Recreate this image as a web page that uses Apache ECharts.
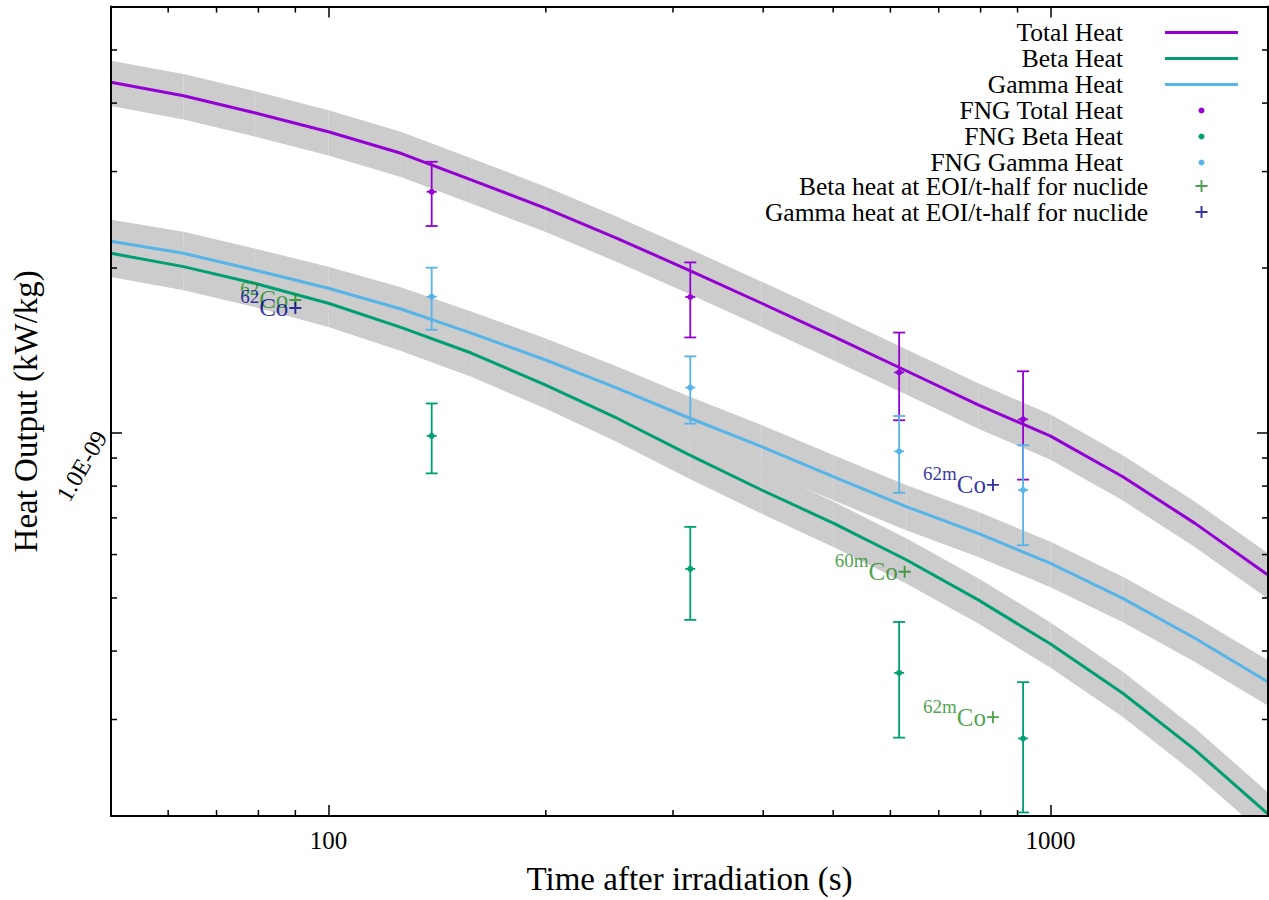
<!DOCTYPE html>
<html>
<head>
<meta charset="utf-8">
<title>Heat output after irradiation</title>
<script src="https://cdn.jsdelivr.net/npm/echarts@6/dist/echarts.min.js"></script>
<style>
  html, body { margin: 0; padding: 0; background: #fff; }
  #chart { width: 1269px; height: 900px; }
</style>
</head>
<body>
<div id="chart"></div>
<script>
// calculated heat curves (kW/kg) at the output times (s)
var times = [50, 63, 79, 100, 126, 158, 200, 251, 316, 398, 501, 631, 794, 1000, 1259, 1585, 1995];
var totalHeat = [4.365e-9, 4.126e-9, 3.842e-9, 3.546e-9, 3.239e-9, 2.895e-9, 2.570e-9, 2.266e-9, 1.981e-9,
                 1.725e-9, 1.499e-9, 1.299e-9, 1.125e-9, 0.987e-9, 0.832e-9, 0.684e-9, 0.552e-9];
var betaHeat = [2.128e-9, 2.012e-9, 1.876e-9, 1.725e-9, 1.559e-9, 1.398e-9, 1.223e-9, 1.064e-9, 0.912e-9,
                0.787e-9, 0.684e-9, 0.587e-9, 0.496e-9, 0.412e-9, 0.335e-9, 0.264e-9, 0.2023e-9];
var gammaHeat = [2.238e-9, 2.128e-9, 1.983e-9, 1.837e-9, 1.684e-9, 1.520e-9, 1.359e-9, 1.207e-9, 1.065e-9,
                 0.944e-9, 0.832e-9, 0.734e-9, 0.656e-9, 0.578e-9, 0.499e-9, 0.422e-9, 0.352e-9];
// relative uncertainty shown by the grey bands
var bandFraction = 0.095;

// FNG measurements with their errors
var fngTimes = [139, 317, 617, 916];
var fngTotal = [2.756e-9, 1.771e-9, 1.290e-9, 1.059e-9];
var fngTotalErr = [0.370e-9, 0.277e-9, 0.235e-9, 0.237e-9];
var fngBeta = [0.988e-9, 0.565e-9, 0.365e-9, 0.277e-9];
var fngBetaErr = [0.144e-9, 0.109e-9, 0.087e-9, 0.074e-9];
var fngGamma = [1.773e-9, 1.210e-9, 0.926e-9, 0.787e-9];
var fngGammaErr = [0.230e-9, 0.170e-9, 0.148e-9, 0.163e-9];

// heat at EOI placed at the nuclide half-life
var betaMarkTimes = [90, 628, 832];
var betaMarkHeat = [1.749e-9, 0.558e-9, 0.303e-9];
var betaMarkNuclides = ['62', '60m', '62m'];
var gammaMarkTimes = [90, 832];
var gammaMarkHeat = [1.691e-9, 0.804e-9];
var gammaMarkNuclides = ['62', '62m'];

// axis ranges and minor ticks
var xMin = 50, xMax = 2000;
var yMin = 2e-10, yMax = 6e-9;
var xMinorTicks = [60, 70, 80, 90, 200, 300, 400, 500, 600, 700, 800, 900];
var yMinorTicks = [3e-10, 4e-10, 5e-10, 6e-10, 7e-10, 8e-10, 9e-10, 2e-9, 3e-9, 4e-9, 5e-9];

var font = "'Liberation Serif', 'Times New Roman', serif";
var colors = {
    total: '#9400d3',
    beta: '#009e73',
    gamma: '#56b4e9',
    band: '#cccccc',
    betaMark: '#228b22',
    gammaMark: '#00008b'
};
var lineIcon = 'path://M0,0H73V3H0Z';
var plusIcon = 'path://M4.2,0h1.6v4.2h4.2v1.6h-4.2v4.2h-1.6v-4.2h-4.2v-1.6h4.2z';

function pairs(xs, ys) {
    return xs.map(function(x, i) { return [x, ys[i]]; });
}

function bandData(values) {
    return times.map(function(t, i) {
        return [t, values[i] * (1 - bandFraction), values[i] * (1 + bandFraction)];
    });
}

function errorData(values, errors) {
    return fngTimes.map(function(t, i) { return [t, values[i], errors[i]]; });
}

function renderBand(params, api) {
    var i = params.dataIndexInside;
    if (i >= params.dataInsideLength - 1) {
        return null;
    }
    var x0 = api.value(0, i), x1 = api.value(0, i + 1);
    return {
        type: 'polygon',
        shape: { points: [
            api.coord([x0, api.value(2, i)]),
            api.coord([x1, api.value(2, i + 1)]),
            api.coord([x1, api.value(1, i + 1)]),
            api.coord([x0, api.value(1, i)])
        ] },
        style: { fill: colors.band }
    };
}

function errorBarRenderer(color) {
    return function(params, api) {
        var x = api.value(0), v = api.value(1), err = api.value(2);
        var c = api.coord([x, v]);
        var top = api.coord([x, v + err])[1];
        var bot = api.coord([x, v - err])[1];
        var s = { stroke: color, lineWidth: 1.8 };
        return {
            type: 'group',
            children: [
                { type: 'line', shape: { x1: c[0], y1: top, x2: c[0], y2: bot }, style: s },
                { type: 'line', shape: { x1: c[0] - 6, y1: top, x2: c[0] + 6, y2: top }, style: s },
                { type: 'line', shape: { x1: c[0] - 6, y1: bot, x2: c[0] + 6, y2: bot }, style: s },
                { type: 'line', shape: { x1: c[0] - 5, y1: c[1], x2: c[0] + 5, y2: c[1] }, style: s },
                { type: 'circle', shape: { cx: c[0], cy: c[1], r: 3 }, style: { fill: color } }
            ]
        };
    };
}

function sciLabel(v) {
    var exp = Math.round(Math.log10(v));
    var mant = v / Math.pow(10, exp);
    var e = Math.abs(exp);
    return mant.toFixed(1) + 'E' + (exp < 0 ? '-' : '+') + (e < 10 ? '0' : '') + e;
}

function plainLabel(v) {
    return String(Math.round(v));
}

function lineSeries(name, values, color) {
    return {
        type: 'line', name: name, data: pairs(times, values),
        symbol: 'none', silent: true, z: 3,
        lineStyle: { color: color, width: 3 },
        itemStyle: { color: color }
    };
}

function bandSeries(name, values) {
    return {
        type: 'custom', name: name, data: bandData(values),
        renderItem: renderBand, clip: true, silent: true, z: 1,
        encode: { x: 0, y: [1, 2] }
    };
}

function errorSeries(name, values, errors, color) {
    return {
        type: 'custom', name: name, data: errorData(values, errors),
        renderItem: errorBarRenderer(color), silent: true, z: 4,
        itemStyle: { color: color },
        encode: { x: 0, y: 1 }
    };
}

function markSeries(name, ts, heats, nuclides, color) {
    return {
        type: 'scatter', name: name, data: pairs(ts, heats),
        symbol: plusIcon, symbolSize: 12, silent: true, z: 5,
        itemStyle: { color: color },
        label: {
            show: true, position: 'left', distance: 1,
            formatter: function(p) { return '{s|' + nuclides[p.dataIndex] + '}{c|Co}'; },
            rich: {
                s: { fontFamily: font, fontSize: 19, lineHeight: 19, verticalAlign: 'top', color: color },
                c: { fontFamily: font, fontSize: 25, lineHeight: 41, color: color }
            }
        }
    };
}

function tickStyle() {
    return { show: true, inside: true, length: 11, lineStyle: { color: '#000', width: 1.5 } };
}

function axisLineStyle() {
    return { show: true, lineStyle: { color: '#000', width: 2 } };
}

var chart = echarts.init(document.getElementById('chart'), null, { renderer: 'svg' });

var option = {
    animation: false,
    backgroundColor: '#fff',
    textStyle: { fontFamily: font },
    grid: { left: 111, top: 6.6, width: 1157, height: 809.4 },
    legend: [{
        orient: 'vertical', right: 31, top: 19.5, padding: 0, itemGap: 0,
        align: 'right', itemWidth: 73, itemHeight: 6, selectedMode: false,
        itemStyle: { borderWidth: 0 },
        textStyle: { fontFamily: font, fontSize: 25.5, color: '#000', lineHeight: 25.5, padding: [0, 37, 0, 0] },
        data: [
            { name: 'Total Heat', icon: lineIcon },
            { name: 'Beta Heat', icon: lineIcon },
            { name: 'Gamma Heat', icon: lineIcon },
            { name: 'FNG Total Heat', icon: 'circle' },
            { name: 'FNG Beta Heat', icon: 'circle' },
            { name: 'FNG Gamma Heat', icon: 'circle' }
        ]
    }, {
        orient: 'vertical', right: 61.5, top: 173, padding: 0, itemGap: 0,
        align: 'right', itemWidth: 73, itemHeight: 12, selectedMode: false,
        itemStyle: { borderWidth: 0 },
        textStyle: { fontFamily: font, fontSize: 25.5, color: '#000', lineHeight: 25.5, padding: [0, 12, 0, 0] },
        data: [
            { name: 'Beta heat at EOI/t-half for nuclide', icon: plusIcon },
            { name: 'Gamma heat at EOI/t-half for nuclide', icon: plusIcon }
        ]
    }],
    xAxis: [{
        type: 'log', logBase: 10, min: xMin, max: xMax, position: 'bottom', z: 10,
        name: 'Time after irradiation (s)', nameLocation: 'middle', nameGap: 46,
        nameTextStyle: { fontFamily: font, fontSize: 33, color: '#000' },
        axisLine: axisLineStyle(), axisTick: tickStyle(),
        axisLabel: { margin: 12, fontFamily: font, fontSize: 25, color: '#000',
                     showMinLabel: false, showMaxLabel: false, formatter: plainLabel },
        splitLine: { show: false }
    }, {
        type: 'log', logBase: 10, min: xMin, max: xMax, position: 'top', z: 10,
        axisLine: axisLineStyle(), axisTick: tickStyle(),
        axisLabel: { show: false }, splitLine: { show: false }
    }],
    yAxis: [{
        type: 'log', logBase: 10, min: yMin, max: yMax, position: 'left', z: 10,
        name: 'Heat Output (kW/kg)', nameLocation: 'middle', nameGap: 62,
        nameTextStyle: { fontFamily: font, fontSize: 33, color: '#000' },
        axisLine: axisLineStyle(), axisTick: tickStyle(),
        axisLabel: { margin: 10, rotate: 60, fontFamily: font, fontSize: 24, color: '#000',
                     showMinLabel: false, showMaxLabel: false, formatter: sciLabel },
        splitLine: { show: false }
    }, {
        type: 'log', logBase: 10, min: yMin, max: yMax, position: 'right', z: 10,
        axisLine: axisLineStyle(), axisTick: tickStyle(),
        axisLabel: { show: false }, splitLine: { show: false }
    }],
    series: [
        bandSeries('totalBand', totalHeat),
        bandSeries('betaBand', betaHeat),
        bandSeries('gammaBand', gammaHeat),
        lineSeries('Total Heat', totalHeat, colors.total),
        lineSeries('Beta Heat', betaHeat, colors.beta),
        lineSeries('Gamma Heat', gammaHeat, colors.gamma),
        errorSeries('FNG Total Heat', fngTotal, fngTotalErr, colors.total),
        errorSeries('FNG Beta Heat', fngBeta, fngBetaErr, colors.beta),
        errorSeries('FNG Gamma Heat', fngGamma, fngGammaErr, colors.gamma),
        markSeries('Beta heat at EOI/t-half for nuclide', betaMarkTimes, betaMarkHeat, betaMarkNuclides, colors.betaMark),
        markSeries('Gamma heat at EOI/t-half for nuclide', gammaMarkTimes, gammaMarkHeat, gammaMarkNuclides, colors.gammaMark),
        {
            // minor ticks on the bottom and top edges
            type: 'custom', name: 'xMinorTicks', data: xMinorTicks.map(function(v) { return [v, yMin]; }),
            silent: true, z: 6,
            renderItem: function(params, api) {
                var b = api.coord([api.value(0), yMin]);
                var t = api.coord([api.value(0), yMax]);
                var s = { stroke: '#000', lineWidth: 1.5 };
                return { type: 'group', children: [
                    { type: 'line', shape: { x1: b[0], y1: b[1], x2: b[0], y2: b[1] - 6 }, style: s },
                    { type: 'line', shape: { x1: t[0], y1: t[1], x2: t[0], y2: t[1] + 6 }, style: s }
                ] };
            }
        },
        {
            // minor ticks on the left and right edges
            type: 'custom', name: 'yMinorTicks', data: yMinorTicks.map(function(v) { return [xMin, v]; }),
            silent: true, z: 6,
            renderItem: function(params, api) {
                var l = api.coord([xMin, api.value(1)]);
                var r = api.coord([xMax, api.value(1)]);
                var s = { stroke: '#000', lineWidth: 1.5 };
                return { type: 'group', children: [
                    { type: 'line', shape: { x1: l[0], y1: l[1], x2: l[0] + 6, y2: l[1] }, style: s },
                    { type: 'line', shape: { x1: r[0], y1: r[1], x2: r[0] - 6, y2: r[1] }, style: s }
                ] };
            }
        }
    ]
};

chart.setOption(option);
</script>
</body>
</html>
